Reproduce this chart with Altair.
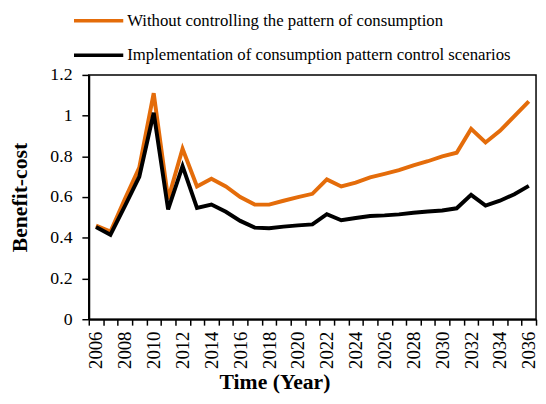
import altair as alt
import pandas as pd

years = list(range(2006, 2037))
without_control = [0.46, 0.43, 0.59, 0.745, 1.11, 0.59, 0.837, 0.652, 0.69, 0.652, 0.60,
                   0.563, 0.563, 0.582, 0.60, 0.616, 0.687, 0.652, 0.671, 0.697, 0.714,
                   0.732, 0.756, 0.776, 0.80, 0.818, 0.935, 0.868, 0.925, 0.998, 1.07]
with_control = [0.453, 0.415, 0.556, 0.70, 1.014, 0.539, 0.752, 0.547, 0.563, 0.528, 0.483,
                0.45, 0.447, 0.455, 0.461, 0.466, 0.516, 0.486, 0.497, 0.507, 0.51,
                0.515, 0.523, 0.529, 0.534, 0.545, 0.611, 0.558, 0.582, 0.614, 0.655]
series_names = ["Without controlling the pattern of consumption",
                "Implementation of consumption pattern control scenarios"]
series_colors = ["#E46C0A", "#000000"]
y_ticks = [0, 0.2, 0.4, 0.6, 0.8, 1.0, 1.2]

rows = []
for yr, a, b in zip(years, without_control, with_control):
    rows.append({"year": yr, "value": a, "series": series_names[0]})
    rows.append({"year": yr, "value": b, "series": series_names[1]})
df = pd.DataFrame(rows)

FONT = "Liberation Serif, Times New Roman, serif"
half_band = 454 / 31 / 2

x_enc = alt.X(
    "year:Q",
    scale=alt.Scale(domain=[2005.5, 2036.5], nice=False, zero=False),
    axis=alt.Axis(
        title="Time (Year)",
        values=[2005.5 + i for i in range(32)],
        labelExpr="(datum.value + 0.5) % 2 == 0 ? format(datum.value + 0.5, 'd') : ''",
        labelAngle=270,
        labelAlign="right",
        labelBaseline="middle",
        labelOffset=half_band,
        labelOverlap=False,
        labelFlush=False,
        labelPadding=6,
        labelFont=FONT,
        labelFontSize=19,
        labelColor="black",
        tickSize=6,
        titleX=188.5,
        titleY=70.5,
        titleBaseline="alphabetic",
        titleAnchor="start",
        titleAlign="center",
        titleFont=FONT,
        titleFontSize=22,
    ),
)
y_enc = alt.Y(
    "value:Q",
    scale=alt.Scale(domain=[0, 1.2], nice=False),
    axis=alt.Axis(
        title="Benefit-cost",
        values=y_ticks,
        format="~g",
        tickSize=7,
        labelPadding=10,
        labelFont=FONT,
        labelFontSize=18,
        labelColor="black",
        titleAngle=270,
        titleX=-63,
        titleY=124,
        titleAlign="center",
        titleBaseline="alphabetic",
        titleFont=FONT,
        titleFontSize=22,
    ),
)
color_enc = alt.Color(
    "series:N",
    scale=alt.Scale(domain=series_names, range=series_colors),
    legend=alt.Legend(
        title=None,
        orient="none",
        legendX=-17,
        legendY=-82,
        direction="vertical",
        symbolType="stroke",
        symbolSize=2500,
        symbolStrokeWidth=3.5,
        labelFont=FONT,
        labelFontSize=17,
        labelColor="black",
        labelOffset=2,
        rowPadding=0,
        labelLimit=500,
    ),
)

base = alt.Chart(df).mark_line(strokeWidth=4).encode(x=x_enc, y=y_enc, color=color_enc)
orange = base.transform_filter(alt.datum.series == series_names[0])
black = base.transform_filter(alt.datum.series == series_names[1])

chart = alt.layer(orange, black).properties(
    width=454,
    height=248,
    padding={"left": 82, "top": 65, "right": 2, "bottom": 75},
    autosize=alt.AutoSizeParams(type="none"),
).configure_view(
    stroke="black", strokeWidth=1.5
).configure_axis(
    grid=False,
    domainColor="black",
    domainWidth=2,
    tickColor="black",
    tickWidth=1.5,
    titleColor="black",
    titleFontWeight="bold",
)

chart.save("out.html", embed_options={"renderer": "svg", "actions": False})
